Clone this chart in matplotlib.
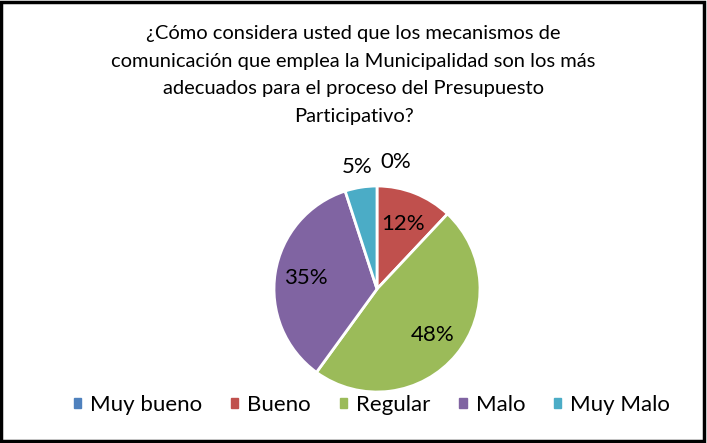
import numpy as np
import matplotlib
matplotlib.use("Agg")
import matplotlib.pyplot as plt
from matplotlib.patches import Rectangle

plt.rcParams['font.family'] = ['Lato', 'DejaVu Sans']

# data
categories = ["Muy bueno", "Bueno", "Regular", "Malo", "Muy Malo"]
values = [0, 12, 48, 35, 5]
labels = ["0%", "12%", "48%", "35%", "5%"]
colors = ["#4F81BD", "#C0504D", "#9BBB59", "#8064A2", "#4BACC6"]
title = ("¿Cómo considera usted que los mecanismos de\n"
         "comunicación que emplea la Municipalidad son los más\n"
         "adecuados para el proceso del Presupuesto\n"
         "Participativo?")

W, H = 707, 443
fig = plt.figure(figsize=(W / 100, H / 100), dpi=100)

# outer frame like the excel chart area
fig.patches.append(Rectangle((0.002, 0.004), 0.994, 0.991, transform=fig.transFigure,
                             fill=False, edgecolor="black", linewidth=2.5))

fig.text(0.5, 1 - 75 / H, title, ha="center", va="center", fontsize=14.5,
         linespacing=1.78)

cx, cy, r = 377, 289, 103
ax = fig.add_axes([(cx - r) / W, (H - cy - r) / H, 2 * r / W, 2 * r / H])
wedges, _ = ax.pie(values, colors=colors, startangle=90, counterclock=False,
                   wedgeprops=dict(edgecolor="white", linewidth=2))
ax.set_xlim(-1, 1)
ax.set_ylim(-1, 1)
ax.set_aspect("equal")
ax.axis("off")

# label radii, the small slices go outside
radii = [1.25, 0.68, 0.70, 0.70, 1.20]
for w, lab, rr, v in zip(wedges, labels, radii, values):
    ang = np.deg2rad((w.theta1 + w.theta2) / 2)
    if v == 0:
        ang = np.deg2rad(81.5)
    ax.text(rr * np.cos(ang), rr * np.sin(ang), lab, ha="center", va="center",
            fontsize=16)

handles = [Rectangle((0, 0), 1, 1, color=c) for c in colors]
fig.legend(handles, categories, loc="center", bbox_to_anchor=(372 / W, 1 - 405 / H),
           ncol=5, frameon=False, fontsize=16, handlelength=0.33, handleheight=0.33,
           handletextpad=0.4, columnspacing=1.3)

fig.savefig("out.png", dpi=100)
